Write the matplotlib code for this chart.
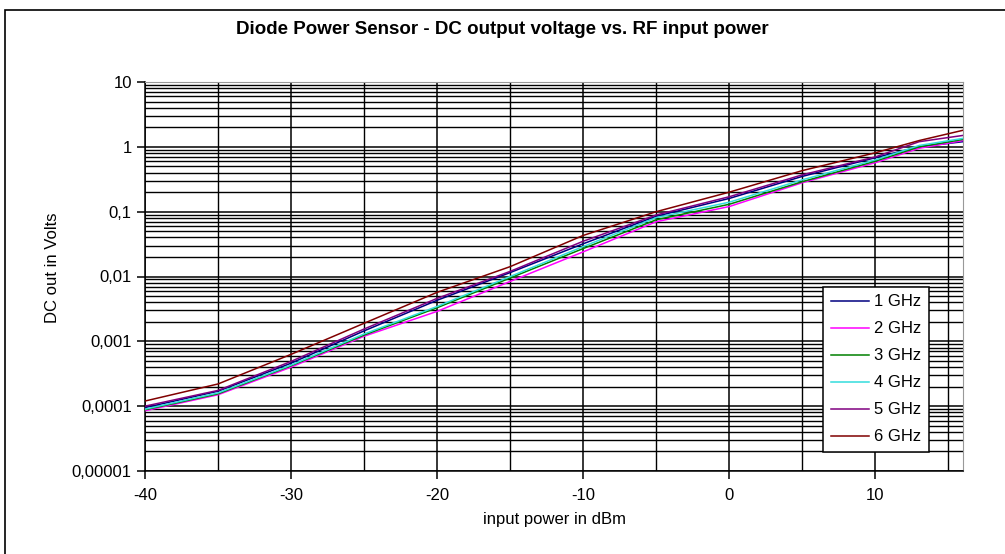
import matplotlib
matplotlib.use("Agg")
import matplotlib.pyplot as plt
from matplotlib.patches import Rectangle
from matplotlib.ticker import LogLocator, MultipleLocator, NullFormatter
import numpy as np

plt.rcParams["font.family"] = ["Liberation Sans", "DejaVu Sans"]
plt.rcParams["axes.unicode_minus"] = False

# input power (dBm)
p_in = [-40, -35, -30, -25, -20, -15, -10, -5, 0, 5, 10, 13, 16]

# DC output voltage (V) per frequency
v_1ghz = [0.95e-4, 1.7e-4, 4.6e-4, 1.45e-3, 4.3e-3, 0.0115, 0.032, 0.085, 0.16, 0.35, 0.68, 1.0, 1.2]
v_2ghz = [0.85e-4, 1.5e-4, 4.0e-4, 1.2e-3, 2.9e-3, 0.0084, 0.024, 0.070, 0.12, 0.28, 0.57, 0.95, 1.25]
v_3ghz = [0.88e-4, 1.55e-4, 4.2e-4, 1.25e-3, 3.3e-3, 0.0095, 0.027, 0.075, 0.13, 0.29, 0.60, 1.0, 1.3]
v_4ghz = [0.9e-4, 1.6e-4, 4.3e-4, 1.3e-3, 3.45e-3, 0.010, 0.029, 0.081, 0.14, 0.31, 0.63, 1.05, 1.35]
v_5ghz = [1.0e-4, 1.75e-4, 4.9e-4, 1.55e-3, 4.6e-3, 0.012, 0.035, 0.089, 0.17, 0.37, 0.70, 1.2, 1.5]
v_6ghz = [1.2e-4, 2.2e-4, 6.3e-4, 1.9e-3, 5.7e-3, 0.0142, 0.043, 0.10, 0.20, 0.43, 0.81, 1.25, 1.8]

labels = ["1 GHz", "2 GHz", "3 GHz", "4 GHz", "5 GHz", "6 GHz"]
colors = ["#000080", "#ff00ff", "#008000", "#33dddd", "#800080", "#800000"]
series = [v_1ghz, v_2ghz, v_3ghz, v_4ghz, v_5ghz, v_6ghz]

y_ticks = [1e-5, 1e-4, 1e-3, 1e-2, 1e-1, 1, 10]
y_ticklabels = ["0,00001", "0,0001", "0,001", "0,01", "0,1", "1", "10"]
x_ticks = [-40, -30, -20, -10, 0, 10]

fig = plt.figure(figsize=(10.05, 5.54), dpi=100)
# outer chart frame (only top/left visible in the reference)
fig.patches.append(Rectangle((5 / 1005, -0.05), 1.1, 1 - 10 / 554 + 0.05,
                             transform=fig.transFigure, fill=False,
                             edgecolor="black", lw=1.2))

ax = fig.add_axes([145 / 1005, 1 - 471 / 554, 818 / 1005, 389 / 554])

for vals, lab, c in zip(series, labels, colors):
    ax.plot(p_in, vals, color=c, lw=1.1, label=lab, zorder=3)

ax.set_yscale("log")
ax.set_ylim(1e-5, 10)
ax.set_xlim(-40, 16)

ax.set_yticks(y_ticks)
ax.set_yticklabels(y_ticklabels)
ax.yaxis.set_minor_locator(LogLocator(base=10, subs=np.arange(2, 10)))
ax.yaxis.set_minor_formatter(NullFormatter())
ax.set_xticks(x_ticks)
ax.xaxis.set_minor_locator(MultipleLocator(5))

ax.grid(True, which="major", axis="both", color="black", lw=1.1)
ax.grid(True, which="minor", axis="both", color="black", lw=1.0)
ax.set_axisbelow(True)

ax.tick_params(which="major", direction="out", length=6, width=1.1,
               labelsize=12, colors="black")
ax.tick_params(which="minor", length=0)
ax.tick_params(axis="x", pad=6)

ax.spines["left"].set_linewidth(1.1)
ax.spines["bottom"].set_linewidth(1.1)
ax.spines["top"].set_color("#999999")
ax.spines["right"].set_color("#999999")

fig.text(0.5, 1 - 29 / 554, "Diode Power Sensor - DC output voltage vs. RF input power",
         fontsize=13.5, fontweight="bold", ha="center", va="center")
ax.set_xlabel("input power in dBm", fontsize=12, labelpad=7)
ax.set_ylabel("DC out in Volts", fontsize=12)
ax.yaxis.set_label_coords((60 - 145) / 818, (554 - 268 - 83) / 389)

leg = ax.legend(loc="lower left", bbox_to_anchor=(0.829, 0.049),
                fontsize=12, frameon=True, fancybox=False, framealpha=1,
                edgecolor="black", handlelength=2.3, handletextpad=0.3,
                labelspacing=0.72, borderpad=0.45, borderaxespad=0)
leg.get_frame().set_linewidth(1.1)
leg.set_zorder(5)

fig.savefig("out.png", dpi=100)
